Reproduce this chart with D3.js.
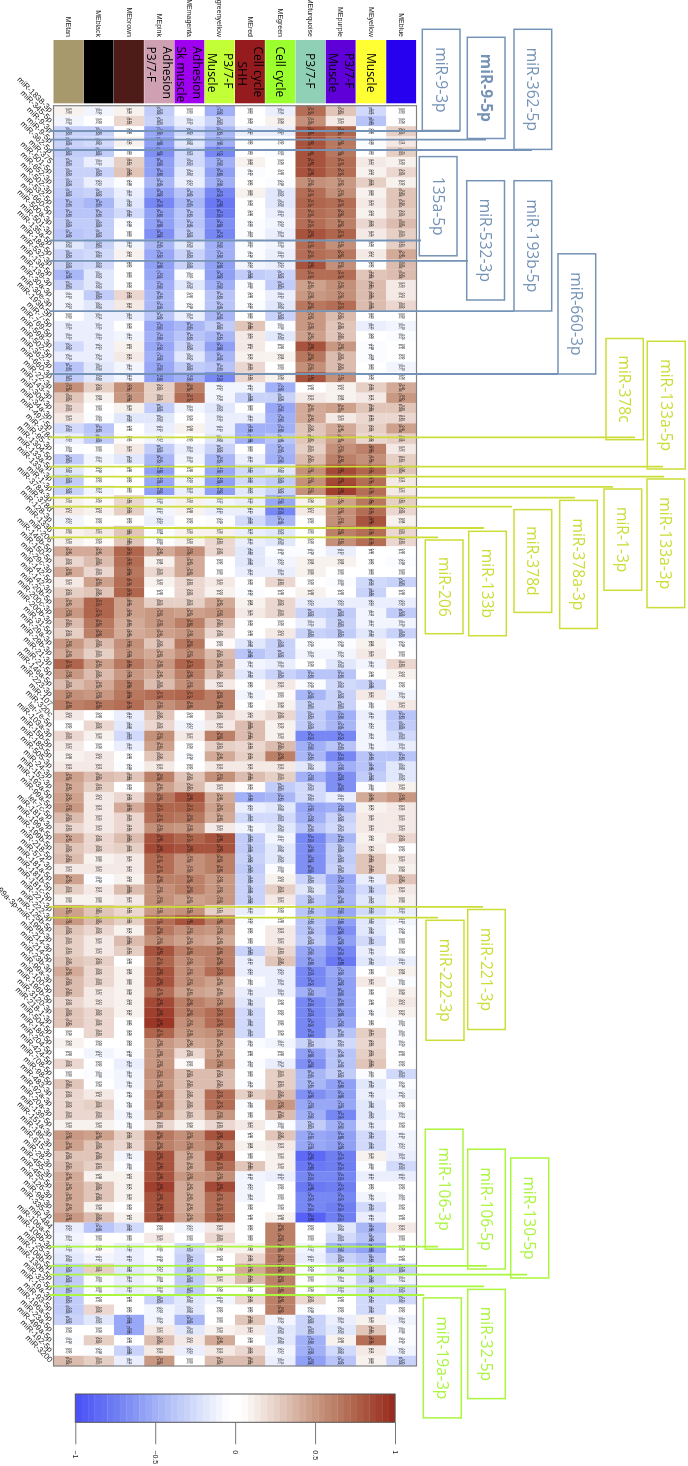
<!DOCTYPE html>
<html>
<head>
<meta charset="utf-8">
<title>module - miRNA correlation</title>
<script src="https://d3js.org/d3.v7.min.js"></script>
<style>
html, body { margin: 0; padding: 0; background: #fff; }
svg { display: block; filter: blur(0.3px); }
text { font-family: "Liberation Sans", sans-serif; }
.domain { display: none; }
</style>
</head>
<body>
<div id="chart"></div>
<script>
// figure is turned 90 degrees: modules run left to right, miRNAs top to bottom
var modules = ["MEtan","MEblack","MEbrown","MEpink","MEmagenta","MEgreenyellow","MEred","MEgreen","MEturquoise","MEpurple","MEyellow","MEblue"];
var moduleColors = ["#a8996c","#000000","#4f1b19","#cfa0b2","#a000f0","#c2ff36","#961b1f","#9cff2e","#90d0b6","#5f00d8","#ffff33","#2800f0"];
var moduleNotes = [[],[],[],["Adhesion","P3/7-F"],["Adhesion","Sk muscle"],["P3/7-F","Muscle"],["Cell cycle","SHH"],["Cell cycle"],["P3/7-F"],["P3/7-F","Muscle"],["Muscle"],[]];

// names are hard to read in the source, best reading of each
var mirnas = ["miR-1838-3p","miR-345-5p","miR-9-3p","miR-9-5p","miR-362-5p","miR-375","miR-501-5p","miR-652-3p","miR-502-3p","miR-532-5p",
"miR-660-5p","miR-500a-3p","miR-501-3p","miR-135a-5p","miR-188-5p","miR-532-3p","miR-138-5p","miR-139-3p","miR-30a-3p","miR-30e-3p",
"miR-193b-5p","miR-7-5p","miR-769-5p","miR-598-3p","miR-502-5p","miR-362-3p","miR-660-3p","miR-22-3p","miR-143-3p","miR-30d-3p",
"miR-34a-3p","miR-497-5p","miR-378c","miR-95-3p","miR-1304-5p","miR-133a-5p","miR-133a-3p","miR-1-3p","miR-378a-3p","miR-378d",
"miR-128-3p","miR-133b","miR-206","miR-146b-5p","miR-150-5p","miR-29c-3p","miR-142-5p","miR-142-3p","miR-20b-5p","miR-200c-3p",
"miR-200b-3p","miR-31-5p","miR-29a-3p","miR-29b-3p","miR-21-3p","miR-21-5p","miR-146a-5p","miR-223-3p","miR-107","miR-320c",
"let-7e-5p","miR-103a-3p","miR-15b-5p","miR-185-5p","miR-505-3p","miR-24-3p","miR-152-3p","miR-193a-5p","miR-99a-5p","let-7c-5p",
"miR-181a-3p","miR-199a-5p","miR-199b-5p","miR-218-5p","miR-574-3p","miR-181a-5p","miR-181b-5p","miR-181c-5p","miR-221-3p","miR-222-3p",
"miR-125b-5p","miR-199a-3p-miR-199b-3p","miR-214-3p","miR-214-5p","miR-23b-3p","miR-99a-3p","miR-100-5p","miR-196b-5p","miR-3120-3p","miR-218-1-3p",
"miR-504-5p","miR-186-5p","miR-204-5p","miR-424-5p","miR-708-5p","miR-98-5p","miR-483-3p","miR-92a-3p","miR-20a-3p","miR-139-5p",
"miR-151a-3p","miR-186-3p","miR-615-3p","miR-28-3p","miR-455-3p","miR-455-5p","miR-126-3p","miR-98-3p","miR-335-3p","miR-484",
"miR-106a-5p","miR-106b-3p","miR-25-3p","miR-106b-5p","miR-130b-5p","miR-32-5p","miR-19a-3p","miR-93-5p","miR-196a-5p","miR-23a-5p",
"miR-499a-5p","miR-192-5p","miR-3200"];

// correlation, one list per module, top to bottom
var meTan = [.1,-.1,-.3,-.3,-.35,-.3,-.3,-.3,-.35,-.4,-.4,-.35,-.4,-.2,-.3,-.3,-.45,-.3,-.1,-.1,0,-.15,-.15,-.25,-.15,-.4,-.35,.55,.3,
.2,.15,-.25,-.15,-.08,-.35,-.2,-.35,-.3,.1,.12,-.12,.08,.1,.4,.2,.4,.15,.25,.4,.5,.35,.25,.5,.4,.75,.5,.35,.55,
.6,.15,0,.2,.12,.08,.15,.45,.4,.45,.5,.35,.2,.4,.3,.35,.12,.45,.25,.08,.45,.5,.3,.25,.25,.3,.4,.35,.35,
.2,.3,.3,0,.1,0,.2,0,.3,.2,.2,.2,.1,.5,.45,.3,.35,.4,.4,.4,.4,.5,-.15,-.12,-.15,-.2,-.35,-.35,-.35,-.35,-.35,-.3,0,-.08,0,.35];
var meBlack = [-.1,0,-.3,-.25,-.35,-.15,-.3,-.15,-.3,-.45,-.4,-.35,-.35,-.3,-.25,-.25,-.2,-.2,-.35,-.2,-.15,-.15,-.15,-.15,-.15,-.2,-.2,.25,.08,
0,-.05,-.4,-.35,0,-.12,-.08,0,-.12,.05,.1,0,.12,.05,.4,.35,.2,.45,.3,.75,.75,.65,.6,.35,.25,.45,.35,.4,.5,
.65,0,.2,.1,0,.15,.12,.35,.25,.12,.12,.15,.15,.2,.2,.08,.12,-.08,.12,.08,.3,.35,.2,.15,.12,.25,.2,.2,.12,
.12,.2,.2,.2,0,-.12,0,-.08,0,.15,.25,.2,.1,.45,.3,.3,.25,.08,.3,.3,.08,.35,-.4,0,.05,-.12,.25,-.05,-.08,0,.2,-.2,0,.25,-.08,.25];
var meBrown = [.1,.2,0,.1,0,.25,.3,-.08,-.15,-.2,-.25,-.08,0,-.1,.1,0,0,0,.2,.15,-.15,0,-.12,.1,.15,-.12,-.1,.55,.5,
.1,-.2,0,.05,.15,-.2,0,0,0,.2,.25,0,.3,.3,.75,.7,.65,.7,.75,.45,.45,.4,.4,.55,.5,.65,.5,.6,.65,
.7,-.15,-.2,-.25,-.15,0,-.08,.3,0,.2,.4,.2,.2,.35,.25,.15,.12,.1,.35,.12,.2,.25,.1,.35,.25,0,.08,.08,.08,
.1,.1,0,0,0,-.08,-.15,-.1,-.1,-.05,-.05,-.1,-.08,.25,.2,-.12,-.08,.1,.1,.1,0,.1,-.25,0,-.15,-.15,-.2,-.15,-.15,0,0,-.55,-.55,0,-.3,-.15];
var mePink = [-.35,-.3,-.55,-.6,-.65,-.6,-.6,-.45,-.6,-.7,-.6,-.6,-.65,-.45,-.55,-.6,-.55,-.5,-.45,-.45,-.4,-.55,-.5,-.55,-.5,-.55,-.6,.25,.25,
-.35,-.2,-.15,-.12,-.35,-.45,-.6,-.55,-.6,-.1,-.12,-.15,-.08,-.08,.4,.08,.2,.1,0,.25,.5,.5,.45,.3,.4,.5,.4,.35,.7,
.55,.3,.2,.55,.45,.3,.15,.6,.45,.65,.75,.7,.55,.8,.85,.7,.7,.6,.55,.55,.5,.7,.65,.55,.8,.75,.8,.8,.7,
.85,.9,.95,.75,.5,.5,.5,.55,.5,.6,.6,.55,.2,.65,.6,.8,.8,.8,.9,.8,.8,.8,0,.15,-.05,-.08,-.12,-.08,-.1,-.3,-.1,-.1,.12,.35,.15,.5];
var meMagenta = [0,-.15,-.25,-.2,-.25,-.25,-.2,-.15,-.4,-.45,-.4,-.4,-.35,-.2,-.3,-.3,-.05,-.2,0,-.08,-.15,-.45,-.4,-.3,-.2,-.35,-.5,.6,.7,
-.1,0,.08,0,-.15,-.1,0,-.1,-.15,.1,.08,0,.1,.1,.55,.4,.4,.2,.2,.25,.45,.6,.5,.65,.55,.75,.6,.55,.75,
.6,0,-.12,.12,0,-.08,0,.3,.35,.8,.75,.65,.5,.75,.8,.55,.55,.6,.6,.45,.55,.8,.55,.45,.6,.55,.55,.55,.45,
.6,.6,.55,.5,.4,.2,.05,.35,.35,.3,.3,.25,.08,.55,.55,.4,.4,.5,.4,.4,.4,.45,-.12,0,-.25,-.3,-.35,-.35,-.35,-.2,-.2,-.45,-.2,.15,-.15,0];
var meGreenyellow = [-.5,-.3,-.45,-.5,-.7,-.5,-.6,-.5,-.7,-.8,-.75,-.65,-.7,-.5,-.5,-.6,-.6,-.5,-.4,-.4,-.45,-.35,-.45,-.6,-.45,-.4,-.7,-.12,-.1,
-.2,-.15,-.15,-.2,-.3,-.45,-.55,-.6,-.6,-.12,-.15,-.05,.1,.2,.2,0,0,.15,.1,.4,.5,.35,.2,.05,.35,.4,.35,.12,.6,
.6,.2,.15,.6,.25,.4,.15,.55,.12,.4,.45,.4,.15,.8,.8,.6,.6,.5,.5,.5,.25,.6,.5,.4,.6,.6,.7,.45,.4,
.55,.7,.7,.55,.45,.45,.55,.35,.35,.7,.7,.5,.2,.8,.6,.8,.7,.55,.85,.7,.7,.75,.15,.2,.08,0,.05,.12,0,-.1,0,0,.1,.4,.15,.35];
var meRed = [0,0,-.15,0,0,.08,-.05,0,.08,0,0,-.05,-.05,-.05,-.08,-.1,-.35,-.08,0,-.05,0,.3,.15,.15,.1,.2,.2,-.12,-.3,
0,-.15,-.5,-.5,0,-.15,-.25,-.25,-.2,-.15,-.15,-.25,-.15,-.15,-.2,-.2,-.15,0,-.05,.08,.15,0,0,-.2,-.4,-.12,-.2,0,-.1,
0,.15,.35,.35,.2,.25,.15,.35,.05,-.5,-.15,-.25,-.1,-.35,-.35,-.3,-.35,-.3,-.3,-.3,-.15,-.05,0,0,-.3,-.15,-.15,-.05,-.15,
-.2,-.25,-.25,-.25,-.05,0,-.05,0,-.05,.25,-.05,0,.12,0,.08,0,.3,-.1,-.12,-.12,0,0,0,0,.08,.2,.4,.35,0,.2,0,.3,.12,0,.2,.35];
var meGreen = [-.15,.08,-.15,0,-.05,0,0,-.08,-.2,-.2,-.15,-.1,-.15,-.1,-.15,-.15,-.3,-.35,-.15,-.2,-.3,-.08,-.2,0,.08,0,.08,-.5,-.3,
-.55,-.5,-.5,-.4,-.45,-.5,-.2,-.35,-.3,-.55,-.7,-.45,-.2,-.2,-.08,-.1,-.15,.2,0,.2,.2,0,.15,-.3,-.3,-.15,-.3,.15,.05,
.08,.2,.1,.1,.35,.6,.15,.25,-.35,-.45,-.2,-.25,-.2,-.12,-.2,-.2,-.08,.1,.25,.12,0,0,.12,.12,.2,.3,-.15,-.15,-.15,
0,0,0,0,-.12,0,-.15,.25,.25,.35,.5,.35,-.08,.3,.12,.1,.1,-.15,0,0,0,.08,.6,.6,.6,.6,.65,.6,.6,.6,.6,-.1,-.2,-.2,-.12,-.15];
var meTurquoise = [.7,.55,.8,.8,.8,.8,.8,.55,.7,.75,.7,.7,.8,.7,.7,.8,.7,.45,.5,.65,.5,.5,.45,.8,.65,.55,.8,0,.15,
.4,.4,.3,.3,.25,.35,.55,.55,.55,.08,.12,0,0,0,-.08,.08,.08,0,.08,-.15,-.3,-.15,-.3,-.05,-.1,0,-.4,-.05,-.45,
-.3,-.35,-.35,-.7,-.5,-.45,-.2,-.5,-.25,-.25,-.55,-.5,-.4,-.7,-.65,-.65,-.65,-.3,-.2,-.35,-.4,-.4,-.4,-.35,-.55,-.6,-.7,-.7,-.5,
-.7,-.7,-.7,-.7,-.3,-.6,-.65,-.45,-.45,-.65,-.55,-.5,-.35,-.55,-.55,-.85,-.8,-.7,-.8,-.7,-.7,-.9,0,0,-.12,-.15,-.05,0,0,.2,-.08,-.3,-.3,-.5,-.5,-.6];
var mePurple = [.3,.15,.75,.65,.65,.7,.7,.5,.55,.7,.65,.6,.75,.55,.65,.55,.7,.55,.55,.7,.35,.3,.3,.5,.35,.35,.55,.1,.08,
.45,.15,.4,.45,.55,.6,.85,.85,.9,.45,.55,.55,.6,.55,-.15,.08,0,-.08,0,-.15,-.35,-.3,-.35,-.08,-.1,-.2,-.4,-.25,-.3,
-.3,-.5,-.45,-.7,-.4,-.7,-.5,-.65,-.65,-.15,-.5,-.3,-.25,-.45,-.35,-.35,-.3,-.55,-.5,-.45,-.55,-.6,-.65,-.6,-.7,-.8,-.55,-.6,-.6,
-.6,-.6,-.55,-.4,-.25,-.4,-.4,-.35,-.6,-.6,-.55,-.7,-.5,-.6,-.6,-.75,-.75,-.7,-.75,-.7,-.75,-.75,-.2,-.25,-.5,-.3,-.2,-.12,-.15,0,0,-.15,-.2,.08,-.25,-.4];
var meYellow = [-.25,-.4,0,-.05,0,.12,.1,.25,.08,.15,.1,.2,.15,0,.12,0,.3,.35,.35,.35,0,-.15,0,-.08,-.08,0,0,.25,.12,
.3,.2,.25,.2,.6,.55,.75,.7,.7,.65,.7,.8,.7,.7,0,0,0,-.25,-.3,-.15,-.12,-.12,-.2,.08,.15,-.12,0,-.3,.12,
-.05,-.15,-.12,-.12,-.1,-.4,-.4,-.35,-.08,.4,.1,.15,.15,.1,.15,.3,.3,-.15,-.25,-.2,-.25,-.2,-.2,-.25,-.15,-.2,0,.12,0,
0,-.05,0,.25,.2,.25,.3,-.05,-.2,-.15,-.2,-.2,-.15,-.25,-.25,.1,-.08,-.15,0,-.1,-.25,-.15,-.45,-.4,-.6,-.4,-.3,-.3,-.25,-.25,-.25,.1,.3,.7,.12,.08];
var meBlue = [0,0,.25,.12,.25,.1,.2,.1,.3,.3,.25,.35,.25,.25,.4,.35,.35,.15,.15,.2,0,-.1,-.05,0,0,-.1,0,.4,.5,
.3,.2,.45,.25,.12,.25,.3,.12,.12,.25,.2,.08,.2,.2,0,-.08,0,-.3,0,-.15,-.35,-.1,-.3,-.08,0,.2,.1,0,-.1,
.12,-.4,-.35,-.25,-.15,-.4,-.2,-.2,.1,.5,.15,.15,.15,.2,0,.15,.08,.3,.15,.08,-.15,-.1,-.08,0,0,-.15,.08,-.05,.08,
.12,.1,-.05,-.05,-.05,0,0,-.25,-.08,-.1,0,-.12,0,-.1,-.12,-.15,-.25,-.15,0,-.05,0,0,.15,0,0,0,-.3,-.12,-.25,-.25,0,-.1,-.08,-.05,-.1,-.3];
var columns = [meTan,meBlack,meBrown,mePink,meMagenta,meGreenyellow,meRed,meGreen,meTurquoise,mePurple,meYellow,meBlue];

// second line of each cell, too small to read in the source: rough size of the p value by |r|
var pCuts = [.1,.2,.3,.4,.5,.6,.7];
var pLabels = ["(0.5)","(0.2)","(0.03)","(0.004)","(3e-04)","(7e-06)","(3e-08)","(2e-10)"];

var legendTicks = [-1,-.5,0,.5,1];
var colorAt = [-1,-.75,-.5,-.25,-.04,.04,.25,.5,.75,1];
var colorStops = ["#4d52f7","#7080f2","#a3b2f7","#d4ddfb","#ffffff","#ffffff","#e8d2c8","#c99a84","#b0674e","#982c1e"];

var svg = d3.select("#chart").append("svg").attr("width", 688).attr("height", 1466);

var x = d3.scaleBand().domain(modules).range([53.5, 416.5]);
var y = d3.scaleBand().domain(mirnas).range([105.7, 1366]);
var bw = y.bandwidth();

var ramp = d3.scaleLinear().domain(colorAt).range(colorStops);
var color = d3.scaleQuantize().domain([-1,1]).range(d3.quantize(function(t){ return ramp(2*t-1); }, 50));
var pScale = d3.scaleThreshold().domain(pCuts).range(pLabels);

// module strip
svg.append("g").selectAll("rect").data(modules).enter().append("rect")
	.attr("x", function(d){ return x(d); })
	.attr("y", 40)
	.attr("width", x.bandwidth()-0.4)
	.attr("height", 63.3)
	.attr("fill", function(d,i){ return moduleColors[i]; });

var topAxis = svg.append("g").attr("transform", "translate(0,37)")
	.call(d3.axisTop(x).tickSize(0).tickPadding(0));
topAxis.selectAll("text")
	.attr("transform", "rotate(90)")
	.attr("x", 0).attr("y", 0).attr("dy", "0.35em")
	.attr("text-anchor", "end")
	.style("font-size", "7px")
	.style("font-family", "Liberation Sans")
	.attr("fill", "#222");

var noteBox = svg.append("g");
modules.forEach(function(m,i){
	var notes = moduleNotes[i];
	var cx = x(m) + x.bandwidth()/2;
	notes.forEach(function(n,k){
		var long = notes[0] == "Adhesion" || notes[0] == "Cell cycle";
		var top = long ? 46.5 : 53;
		if(n == "SHH") top = 61.5;
		var tx = cx + (notes.length == 2 ? (k == 0 ? 8 : -8) : 0);
		noteBox.append("text").text(n)
			.attr("transform", "translate(" + tx + "," + top + ") rotate(90)")
			.attr("dy", "0.35em")
			.style("font-family", "Open Sans")
			.style("font-size", "12px")
			.attr("fill", "#000");
	});
});

// cells
var cells = [];
modules.forEach(function(m,j){
	columns[j].forEach(function(v,i){
		cells.push({module: m, mirna: mirnas[i], value: v});
	});
});

svg.append("g").selectAll("rect").data(cells).enter().append("rect")
	.attr("x", function(d){ return x(d.module); })
	.attr("y", function(d){ return y(d.mirna); })
	.attr("width", x.bandwidth()+0.2)
	.attr("height", bw+0.2)
	.attr("fill", function(d){ return color(d.value); });

var cellText = svg.append("g").style("font-family", "DejaVu Sans").style("font-size", "2.7px").attr("fill", "#111");
var cellGroups = cellText.selectAll("g").data(cells).enter().append("g")
	.attr("transform", function(d){
		return "translate(" + (x(d.module)+x.bandwidth()/2) + "," + (y(d.mirna)+bw/2) + ") rotate(90)";
	})
	.attr("text-anchor", "middle");
cellGroups.append("text").attr("y", -0.3).text(function(d){ return d3.format(".2f")(d.value); });
cellGroups.append("text").attr("y", 2.5).text(function(d){ return pScale(Math.abs(d.value)); });

svg.append("rect").attr("x", 53.5).attr("y", 105.7).attr("width", 363).attr("height", 1260.3)
	.attr("fill", "none").attr("stroke", "#808080").attr("stroke-width", 1.2);

var leftAxis = svg.append("g").attr("transform", "translate(51.5,0)")
	.call(d3.axisLeft(y).tickSize(0).tickPadding(0));
leftAxis.selectAll("text")
	.attr("transform", "rotate(45)")
	.attr("x", 0).attr("y", 0).attr("dy", "0.35em")
	.attr("text-anchor", "end")
	.style("font-size", "8px")
	.style("font-family", "Liberation Sans")
	.attr("fill", "#222");

// colour key
var keyX = d3.scaleLinear().domain([-1,1]).range([75.3, 395]);
svg.append("g").selectAll("rect").data(color.range()).enter().append("rect")
	.attr("x", function(d,i){ return keyX(-1 + i*2/50); })
	.attr("y", 1394)
	.attr("width", keyX(0.04) - keyX(0) + 0.3)
	.attr("height", 28.3)
	.attr("fill", function(d){ return d; });
svg.append("rect").attr("x", 75.3).attr("y", 1394).attr("width", 319.7).attr("height", 28.3)
	.attr("fill", "none").attr("stroke", "#555").attr("stroke-width", 1);
var keyAxis = svg.append("g").attr("transform", "translate(0,1422.3)")
	.call(d3.axisBottom(keyX).tickValues(legendTicks).tickSize(22).tickFormat(d3.format("")));
keyAxis.selectAll("line").attr("stroke", "#777");
keyAxis.selectAll("text")
	.attr("transform", "translate(0,28) rotate(90)")
	.attr("x", 0).attr("y", 0).attr("dy", "0.35em")
	.attr("text-anchor", "start")
	.style("font-size", "7px")
	.style("font-family", "Liberation Sans")
	.attr("fill", "#222");

// callouts: a boxed name with a leader running back across the row
var steel = "#7593b6", olive = "#cbdd36", lime = "#aaf53e";
var callouts = [
	{name:"miR-9-3p", row:"miR-9-3p", dy:4.8, end:460, box:[422.3,29.3,460,130.5], c:steel},
	{name:"miR-9-5p", row:"miR-9-5p", dy:3.2, end:486, box:[467.3,37.3,505,138.5], c:steel, bold:true},
	{name:"miR-362-5p", row:"miR-362-5p", dy:3.3, end:532, box:[514,29.3,551.7,149.4], c:steel},
	{name:"135a-5p", row:"miR-135a-5p", dy:1.6, end:421, box:[419.3,156.6,457,255.8], c:steel},
	{name:"miR-532-3p", row:"miR-532-3p", dy:1.4, end:468, box:[466.7,180.7,504.5,300], c:steel},
	{name:"miR-193b-5p", row:"miR-193b-5p", dy:0.4, end:514, box:[514,180.7,551.7,311], c:steel},
	{name:"miR-660-3p", row:"miR-660-3p", dy:1.9, end:558, box:[558,253.8,595.7,374], c:steel},
	{name:"miR-378c", row:"miR-378c", dy:3.7, end:635, box:[606,338.5,643.3,439.7], c:olive},
	{name:"miR-133a-5p", row:"miR-133a-5p", dy:2.3, end:663, box:[647.3,341.3,685.3,469], c:olive},
	{name:"miR-133a-3p", row:"miR-133a-3p", dy:2.1, end:664, box:[647,479,684.7,607.6], c:olive},
	{name:"miR-1-3p", row:"miR-1-3p", dy:2, end:613, box:[604,489,641.7,590.3], c:olive},
	{name:"miR-378a-3p", row:"miR-378a-3p", dy:2.5, end:575, box:[559.7,500.4,597.3,628.5], c:olive},
	{name:"miR-378d", row:"miR-378d", dy:1.3, end:512, box:[514,509.6,551.7,612.4], c:olive},
	{name:"miR-133b", row:"miR-133b", dy:2.2, end:484, box:[468.7,531.3,506.3,635.7], c:olive},
	{name:"miR-206", row:"miR-206", dy:1.3, end:438, box:[425.3,540,463,633.7], c:olive},
	{name:"miR-221-3p", row:"miR-221-3p", dy:1.9, end:483, box:[467.7,909.5,505.3,1029.5], c:olive},
	{name:"miR-222-3p", row:"miR-222-3p", dy:2.5, end:438, box:[426,920.3,464,1040.3], c:olive},
	{name:"miR-106-3p", row:"miR-106b-3p", dy:3.5, end:438, box:[425.3,1129.2,463,1249.2], c:lime},
	{name:"miR-106-5p", row:"miR-106b-5p", dy:2.3, end:487, box:[467.7,1149.2,505.3,1269], c:lime},
	{name:"miR-130-5p", row:"miR-130b-5p", dy:0.9, end:527, box:[510.7,1158,548.7,1278], c:lime},
	{name:"miR-32-5p", row:"miR-32-5p", dy:2.4, end:484, box:[467.7,1289.4,505.3,1398.6], c:lime},
	{name:"miR-19a-3p", row:"miR-19a-3p", dy:0.7, end:424, box:[423.3,1297.9,461.3,1417.9], c:lime}
];

var calloutG = svg.append("g").selectAll("g").data(callouts).enter().append("g");
calloutG.append("line")
	.attr("x1", 49.5)
	.attr("x2", function(d){ return d.end; })
	.attr("y1", function(d){ return y(d.row)+d.dy; })
	.attr("y2", function(d){ return y(d.row)+d.dy; })
	.attr("stroke", function(d){ return d.c; })
	.attr("stroke-width", 1.8);
calloutG.append("rect")
	.attr("x", function(d){ return d.box[0]; })
	.attr("y", function(d){ return d.box[1]; })
	.attr("width", function(d){ return d.box[2]-d.box[0]; })
	.attr("height", function(d){ return d.box[3]-d.box[1]; })
	.attr("fill", "none")
	.attr("stroke", function(d){ return d.c; })
	.attr("stroke-width", 1.5);
calloutG.append("text")
	.text(function(d){ return d.name; })
	.attr("transform", function(d){
		return "translate(" + (d.box[0]+d.box[2])/2 + "," + (d.box[1]+d.box[3])/2 + ") rotate(90)";
	})
	.attr("text-anchor", "middle")
	.attr("dy", "0.35em")
	.style("font-family", "Open Sans")
	.style("font-size", "15.6px")
	.style("font-weight", function(d){ return d.bold ? "bold" : "normal"; })
	.attr("fill", function(d){ return d.c; });
</script>
</body>
</html>
